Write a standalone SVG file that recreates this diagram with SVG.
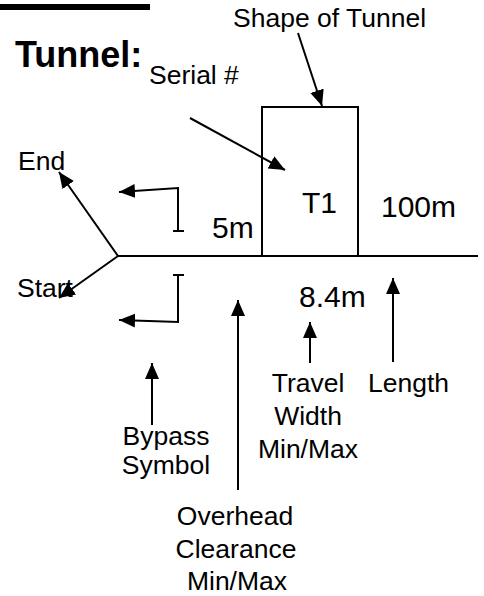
<svg xmlns="http://www.w3.org/2000/svg" width="484" height="596" viewBox="0 0 484 596">
<style>
text{font-family:"Liberation Sans",Arial,sans-serif;font-size:26.5px;fill:#000}
text.big{font-size:30px}
.ln{stroke:#000;stroke-width:2;fill:none}
.ar{stroke:#000;stroke-width:2;fill:none;marker-end:url(#ah)}
.c{text-anchor:middle}
</style>
<defs>
<marker id="ah" markerUnits="userSpaceOnUse" markerWidth="17" markerHeight="15" refX="16" refY="7" orient="auto">
<path d="M0,0 L16,7 L0,14 z" fill="#000"/>
</marker>
</defs>
<rect x="0" y="4" width="150" height="6" fill="#000"/>
<g id="title"><text x="15" y="67" style="font-weight:bold;font-size:36px">Tunnel:</text></g>
<g id="tunnel"><rect class="ln" x="262" y="107" width="96" height="149"/><text class="big" x="302" y="213">T1</text></g>
<g id="road"><line class="ln" x1="118" y1="256" x2="478" y2="256"/></g>
<g id="bypass-upper"><polyline class="ar" points="178,231 178,188 119,192"/><line class="ln" x1="173" y1="231" x2="184" y2="231"/></g>
<g id="bypass-lower"><polyline class="ar" points="178,275 178,322 119,320"/><line class="ln" x1="173" y1="275" x2="184" y2="275"/></g>
<g id="lbl-shape"><text x="233" y="27">Shape of Tunnel</text></g>
<g id="lbl-serial"><text x="149" y="84">Serial #</text></g>
<g id="lbl-end"><text x="18" y="170">End</text></g>
<g id="lbl-start"><text x="17" y="297">Start</text></g>
<g id="lbl-5m"><text class="big" x="212" y="238">5m</text></g>
<g id="lbl-100m"><text class="big" x="381" y="217">100m</text></g>
<g id="lbl-84m"><text class="big" x="299" y="307">8.4m</text></g>
<g id="lbl-travel"><text class="c" x="308" y="392">Travel</text><text class="c" x="308" y="425">Width</text><text class="c" x="308" y="458">Min/Max</text></g>
<g id="lbl-length"><text x="368" y="392">Length</text></g>
<g id="lbl-bypass"><text class="c" x="166" y="445">Bypass</text><text class="c" x="166" y="474">Symbol</text></g>
<g id="lbl-overhead"><text class="c" x="235" y="525">Overhead</text><text class="c" x="236" y="558">Clearance</text><text class="c" x="237" y="590">Min/Max</text></g>
<g id="connectors">
<line class="ar" x1="298" y1="33" x2="322" y2="106"/>
<line class="ar" x1="190" y1="118" x2="285" y2="170"/>
<line class="ar" x1="118" y1="256" x2="59" y2="172"/>
<line class="ar" x1="118" y1="256" x2="59" y2="298"/>
<line class="ar" x1="152" y1="425" x2="152" y2="363"/>
<line class="ar" x1="238" y1="490" x2="238" y2="300"/>
<line class="ar" x1="310" y1="363" x2="310" y2="322"/>
<line class="ar" x1="393" y1="362" x2="393" y2="278"/>
</g>
</svg>
